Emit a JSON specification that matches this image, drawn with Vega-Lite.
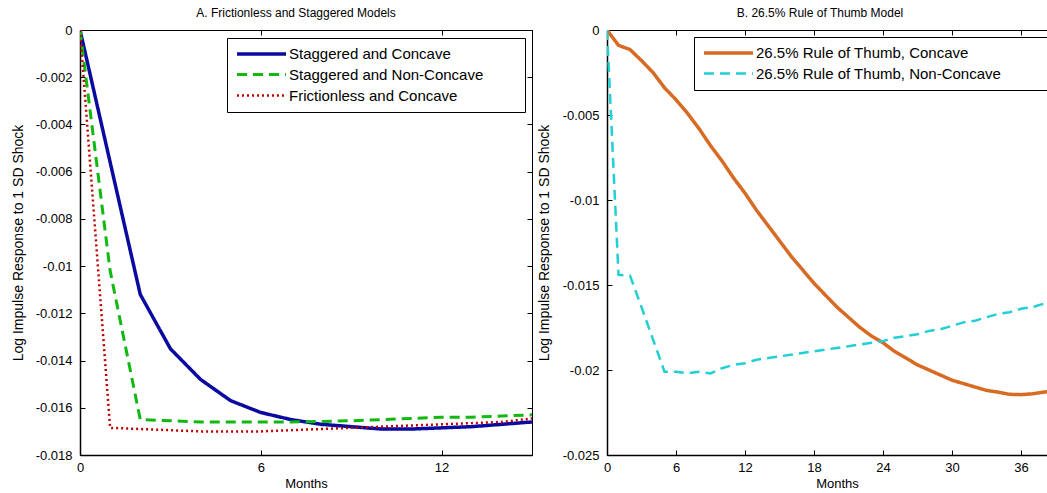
{
  "$schema": "https://vega.github.io/schema/vega-lite/v6.json",
  "padding": {"left": 10, "top": 6, "right": 0, "bottom": 0},
  "background": "white",
  "config": {
    "view": {"stroke": "black", "strokeWidth": 1},
    "axis": {"labelFont": "Liberation Sans", "titleFont": "Liberation Sans", "labelFontSize": 13, "titleFontSize": 13, "labelColor": "black", "titleColor": "black", "domainColor": "black", "tickColor": "black", "tickSize": -5, "grid": false, "titleFontWeight": "normal", "labelFlush": false, "labelOverlap": false},
    "title": {"font": "Liberation Sans", "fontSize": 12, "fontWeight": "normal", "color": "black", "anchor": "middle", "offset": 4},
    "legend": {"labelFont": "Liberation Sans", "labelFontSize": 15, "labelColor": "black", "strokeColor": "black", "fillColor": "white", "padding": 8, "symbolType": "M-1,0H7.17", "symbolSize": 144, "labelOffset": 38, "rowPadding": 5, "labelLimit": 500}
  },
  "datasets": {
    "left": [
      {"month": 0, "value": 0, "series": "Staggered and Concave"},
      {"month": 1, "value": -0.0056, "series": "Staggered and Concave"},
      {"month": 2, "value": -0.0112, "series": "Staggered and Concave"},
      {"month": 3, "value": -0.0135, "series": "Staggered and Concave"},
      {"month": 4, "value": -0.0148, "series": "Staggered and Concave"},
      {"month": 5, "value": -0.0157, "series": "Staggered and Concave"},
      {"month": 6, "value": -0.0162, "series": "Staggered and Concave"},
      {"month": 7, "value": -0.0165, "series": "Staggered and Concave"},
      {"month": 8, "value": -0.0167, "series": "Staggered and Concave"},
      {"month": 9, "value": -0.0168, "series": "Staggered and Concave"},
      {"month": 10, "value": -0.0169, "series": "Staggered and Concave"},
      {"month": 11, "value": -0.0169, "series": "Staggered and Concave"},
      {"month": 12, "value": -0.01685, "series": "Staggered and Concave"},
      {"month": 13, "value": -0.0168, "series": "Staggered and Concave"},
      {"month": 14, "value": -0.0167, "series": "Staggered and Concave"},
      {"month": 15, "value": -0.0166, "series": "Staggered and Concave"},
      {"month": 0, "value": 0, "series": "Staggered and Non-Concave"},
      {"month": 1, "value": -0.0102, "series": "Staggered and Non-Concave"},
      {"month": 2, "value": -0.0165, "series": "Staggered and Non-Concave"},
      {"month": 3, "value": -0.01655, "series": "Staggered and Non-Concave"},
      {"month": 4, "value": -0.0166, "series": "Staggered and Non-Concave"},
      {"month": 5, "value": -0.0166, "series": "Staggered and Non-Concave"},
      {"month": 6, "value": -0.0166, "series": "Staggered and Non-Concave"},
      {"month": 7, "value": -0.0166, "series": "Staggered and Non-Concave"},
      {"month": 8, "value": -0.01658, "series": "Staggered and Non-Concave"},
      {"month": 9, "value": -0.01655, "series": "Staggered and Non-Concave"},
      {"month": 10, "value": -0.0165, "series": "Staggered and Non-Concave"},
      {"month": 11, "value": -0.01645, "series": "Staggered and Non-Concave"},
      {"month": 12, "value": -0.0164, "series": "Staggered and Non-Concave"},
      {"month": 13, "value": -0.0164, "series": "Staggered and Non-Concave"},
      {"month": 14, "value": -0.01635, "series": "Staggered and Non-Concave"},
      {"month": 15, "value": -0.0163, "series": "Staggered and Non-Concave"},
      {"month": 0, "value": 0, "series": "Frictionless and Concave"},
      {"month": 1, "value": -0.01685, "series": "Frictionless and Concave"},
      {"month": 2, "value": -0.0169, "series": "Frictionless and Concave"},
      {"month": 3, "value": -0.01695, "series": "Frictionless and Concave"},
      {"month": 4, "value": -0.017, "series": "Frictionless and Concave"},
      {"month": 5, "value": -0.017, "series": "Frictionless and Concave"},
      {"month": 6, "value": -0.017, "series": "Frictionless and Concave"},
      {"month": 7, "value": -0.01695, "series": "Frictionless and Concave"},
      {"month": 8, "value": -0.0169, "series": "Frictionless and Concave"},
      {"month": 9, "value": -0.01685, "series": "Frictionless and Concave"},
      {"month": 10, "value": -0.0168, "series": "Frictionless and Concave"},
      {"month": 11, "value": -0.01675, "series": "Frictionless and Concave"},
      {"month": 12, "value": -0.0167, "series": "Frictionless and Concave"},
      {"month": 13, "value": -0.01665, "series": "Frictionless and Concave"},
      {"month": 14, "value": -0.0166, "series": "Frictionless and Concave"},
      {"month": 15, "value": -0.01645, "series": "Frictionless and Concave"}
    ],
    "right": [
      {"month": 0, "value": 0, "series": "26.5% Rule of Thumb, Concave"},
      {"month": 1, "value": -0.0009, "series": "26.5% Rule of Thumb, Concave"},
      {"month": 2, "value": -0.00115, "series": "26.5% Rule of Thumb, Concave"},
      {"month": 3, "value": -0.0018, "series": "26.5% Rule of Thumb, Concave"},
      {"month": 4, "value": -0.0025, "series": "26.5% Rule of Thumb, Concave"},
      {"month": 5, "value": -0.0034, "series": "26.5% Rule of Thumb, Concave"},
      {"month": 6, "value": -0.0041, "series": "26.5% Rule of Thumb, Concave"},
      {"month": 7, "value": -0.0049, "series": "26.5% Rule of Thumb, Concave"},
      {"month": 8, "value": -0.0058, "series": "26.5% Rule of Thumb, Concave"},
      {"month": 9, "value": -0.0068, "series": "26.5% Rule of Thumb, Concave"},
      {"month": 10, "value": -0.0077, "series": "26.5% Rule of Thumb, Concave"},
      {"month": 11, "value": -0.0087, "series": "26.5% Rule of Thumb, Concave"},
      {"month": 12, "value": -0.0096, "series": "26.5% Rule of Thumb, Concave"},
      {"month": 13, "value": -0.0106, "series": "26.5% Rule of Thumb, Concave"},
      {"month": 14, "value": -0.0115, "series": "26.5% Rule of Thumb, Concave"},
      {"month": 15, "value": -0.0124, "series": "26.5% Rule of Thumb, Concave"},
      {"month": 16, "value": -0.0133, "series": "26.5% Rule of Thumb, Concave"},
      {"month": 17, "value": -0.0141, "series": "26.5% Rule of Thumb, Concave"},
      {"month": 18, "value": -0.0149, "series": "26.5% Rule of Thumb, Concave"},
      {"month": 19, "value": -0.0156, "series": "26.5% Rule of Thumb, Concave"},
      {"month": 20, "value": -0.0163, "series": "26.5% Rule of Thumb, Concave"},
      {"month": 21, "value": -0.0169, "series": "26.5% Rule of Thumb, Concave"},
      {"month": 22, "value": -0.0175, "series": "26.5% Rule of Thumb, Concave"},
      {"month": 23, "value": -0.018, "series": "26.5% Rule of Thumb, Concave"},
      {"month": 24, "value": -0.0184, "series": "26.5% Rule of Thumb, Concave"},
      {"month": 25, "value": -0.0189, "series": "26.5% Rule of Thumb, Concave"},
      {"month": 26, "value": -0.0193, "series": "26.5% Rule of Thumb, Concave"},
      {"month": 27, "value": -0.0197, "series": "26.5% Rule of Thumb, Concave"},
      {"month": 28, "value": -0.02, "series": "26.5% Rule of Thumb, Concave"},
      {"month": 29, "value": -0.0203, "series": "26.5% Rule of Thumb, Concave"},
      {"month": 30, "value": -0.0206, "series": "26.5% Rule of Thumb, Concave"},
      {"month": 31, "value": -0.0208, "series": "26.5% Rule of Thumb, Concave"},
      {"month": 32, "value": -0.021, "series": "26.5% Rule of Thumb, Concave"},
      {"month": 33, "value": -0.0212, "series": "26.5% Rule of Thumb, Concave"},
      {"month": 34, "value": -0.0213, "series": "26.5% Rule of Thumb, Concave"},
      {"month": 35, "value": -0.02143, "series": "26.5% Rule of Thumb, Concave"},
      {"month": 36, "value": -0.02145, "series": "26.5% Rule of Thumb, Concave"},
      {"month": 37, "value": -0.0214, "series": "26.5% Rule of Thumb, Concave"},
      {"month": 38, "value": -0.0213, "series": "26.5% Rule of Thumb, Concave"},
      {"month": 39, "value": -0.0212, "series": "26.5% Rule of Thumb, Concave"},
      {"month": 40, "value": -0.0211, "series": "26.5% Rule of Thumb, Concave"},
      {"month": 0, "value": 0, "series": "26.5% Rule of Thumb, Non-Concave"},
      {"month": 1, "value": -0.0144, "series": "26.5% Rule of Thumb, Non-Concave"},
      {"month": 2, "value": -0.01445, "series": "26.5% Rule of Thumb, Non-Concave"},
      {"month": 3, "value": -0.0163, "series": "26.5% Rule of Thumb, Non-Concave"},
      {"month": 4, "value": -0.0182, "series": "26.5% Rule of Thumb, Non-Concave"},
      {"month": 5, "value": -0.0201, "series": "26.5% Rule of Thumb, Non-Concave"},
      {"month": 6, "value": -0.0201, "series": "26.5% Rule of Thumb, Non-Concave"},
      {"month": 7, "value": -0.0202, "series": "26.5% Rule of Thumb, Non-Concave"},
      {"month": 8, "value": -0.0201, "series": "26.5% Rule of Thumb, Non-Concave"},
      {"month": 9, "value": -0.0202, "series": "26.5% Rule of Thumb, Non-Concave"},
      {"month": 10, "value": -0.0199, "series": "26.5% Rule of Thumb, Non-Concave"},
      {"month": 11, "value": -0.0197, "series": "26.5% Rule of Thumb, Non-Concave"},
      {"month": 12, "value": -0.0196, "series": "26.5% Rule of Thumb, Non-Concave"},
      {"month": 13, "value": -0.0194, "series": "26.5% Rule of Thumb, Non-Concave"},
      {"month": 14, "value": -0.0193, "series": "26.5% Rule of Thumb, Non-Concave"},
      {"month": 15, "value": -0.0192, "series": "26.5% Rule of Thumb, Non-Concave"},
      {"month": 16, "value": -0.0191, "series": "26.5% Rule of Thumb, Non-Concave"},
      {"month": 17, "value": -0.019, "series": "26.5% Rule of Thumb, Non-Concave"},
      {"month": 18, "value": -0.0189, "series": "26.5% Rule of Thumb, Non-Concave"},
      {"month": 19, "value": -0.0188, "series": "26.5% Rule of Thumb, Non-Concave"},
      {"month": 20, "value": -0.0187, "series": "26.5% Rule of Thumb, Non-Concave"},
      {"month": 21, "value": -0.0186, "series": "26.5% Rule of Thumb, Non-Concave"},
      {"month": 22, "value": -0.0185, "series": "26.5% Rule of Thumb, Non-Concave"},
      {"month": 23, "value": -0.0184, "series": "26.5% Rule of Thumb, Non-Concave"},
      {"month": 24, "value": -0.0183, "series": "26.5% Rule of Thumb, Non-Concave"},
      {"month": 25, "value": -0.0181, "series": "26.5% Rule of Thumb, Non-Concave"},
      {"month": 26, "value": -0.018, "series": "26.5% Rule of Thumb, Non-Concave"},
      {"month": 27, "value": -0.0179, "series": "26.5% Rule of Thumb, Non-Concave"},
      {"month": 28, "value": -0.0177, "series": "26.5% Rule of Thumb, Non-Concave"},
      {"month": 29, "value": -0.0176, "series": "26.5% Rule of Thumb, Non-Concave"},
      {"month": 30, "value": -0.0174, "series": "26.5% Rule of Thumb, Non-Concave"},
      {"month": 31, "value": -0.0172, "series": "26.5% Rule of Thumb, Non-Concave"},
      {"month": 32, "value": -0.0171, "series": "26.5% Rule of Thumb, Non-Concave"},
      {"month": 33, "value": -0.0169, "series": "26.5% Rule of Thumb, Non-Concave"},
      {"month": 34, "value": -0.0167, "series": "26.5% Rule of Thumb, Non-Concave"},
      {"month": 35, "value": -0.0166, "series": "26.5% Rule of Thumb, Non-Concave"},
      {"month": 36, "value": -0.0164, "series": "26.5% Rule of Thumb, Non-Concave"},
      {"month": 37, "value": -0.0163, "series": "26.5% Rule of Thumb, Non-Concave"},
      {"month": 38, "value": -0.0161, "series": "26.5% Rule of Thumb, Non-Concave"},
      {"month": 39, "value": -0.016, "series": "26.5% Rule of Thumb, Non-Concave"},
      {"month": 40, "value": -0.0158, "series": "26.5% Rule of Thumb, Non-Concave"}
    ]
  },
  "spacing": 0,
  "resolve": {"scale": {"color": "independent", "strokeDash": "independent", "strokeWidth": "independent"}, "legend": {"color": "independent", "strokeDash": "independent", "strokeWidth": "independent"}},
  "hconcat": [
    {
      "width": 452,
      "height": 425,
      "title": {"text": "A. Frictionless and Staggered Models", "dx": -10},
      "data": {"name": "left"},
      "layer": [
        {
          "mark": {"type": "line", "clip": true},
          "encoding": {
            "x": {"field": "month", "type": "quantitative", "scale": {"domain": [0, 15], "nice": false}, "axis": {"values": [0, 6, 12], "title": "Months", "labelPadding": 11, "titlePadding": 3, "domainWidth": 1.5}},
            "y": {"field": "value", "type": "quantitative", "scale": {"domain": [-0.018, 0], "nice": false}, "axis": {"values": [0, -0.002, -0.004, -0.006, -0.008, -0.01, -0.012, -0.014, -0.016, -0.018], "labelExpr": "'' + datum.value", "title": "Log Impulse Response to 1 SD Shock", "titleFontSize": 14, "labelPadding": 13, "titlePadding": 10, "domainWidth": 1.5}},
            "color": {"field": "series", "type": "nominal", "scale": {"domain": ["Staggered and Concave", "Staggered and Non-Concave", "Frictionless and Concave"], "range": ["#0a0aa0", "#10b810", "#c00000"]}, "legend": {"title": null, "orient": "none", "legendX": 147, "legendY": 8, "labelExpr": "datum.label + '\u00a0\u00a0\u00a0\u00a0\u00a0\u00a0\u00a0\u00a0\u200b'"}},
            "strokeDash": {"field": "series", "type": "nominal", "scale": {"domain": ["Staggered and Concave", "Staggered and Non-Concave", "Frictionless and Concave"], "range": [[1, 0], [10, 6], [2, 3]]}, "legend": {"title": null, "orient": "none", "legendX": 147, "legendY": 8, "labelExpr": "datum.label + '\u00a0\u00a0\u00a0\u00a0\u00a0\u00a0\u00a0\u00a0\u200b'"}},
            "strokeWidth": {"field": "series", "type": "ordinal", "scale": {"domain": ["Staggered and Concave", "Staggered and Non-Concave", "Frictionless and Concave"], "range": [3.5, 2.5, 2.2]}, "legend": {"title": null, "orient": "none", "legendX": 147, "legendY": 8, "labelExpr": "datum.label + '\u00a0\u00a0\u00a0\u00a0\u00a0\u00a0\u00a0\u00a0\u200b'"}}
          }
        },
        {
          "mark": {"type": "point", "opacity": 0},
          "encoding": {
            "x": {"field": "month", "type": "quantitative", "scale": {"domain": [0, 15], "nice": false}, "axis": {"orient": "top", "values": [0, 6, 12], "labels": false, "title": null}},
            "y": {"field": "value", "type": "quantitative", "scale": {"domain": [-0.018, 0], "nice": false}, "axis": {"orient": "right", "values": [0, -0.002, -0.004, -0.006, -0.008, -0.01, -0.012, -0.014, -0.016, -0.018], "labels": false, "title": null}}
          }
        }
      ],
      "resolve": {"axis": {"x": "independent", "y": "independent"}}
    },
    {
      "width": 460,
      "height": 425,
      "title": {"text": "B. 26.5% Rule of Thumb Model", "dx": -17},
      "data": {"name": "right"},
      "layer": [
        {
          "mark": {"type": "line", "clip": true},
          "encoding": {
            "x": {"field": "month", "type": "quantitative", "scale": {"domain": [0, 40], "nice": false}, "axis": {"values": [0, 6, 12, 18, 24, 30, 36], "title": "Months", "labelPadding": 11, "titlePadding": 3, "domainWidth": 1.5}},
            "y": {"field": "value", "type": "quantitative", "scale": {"domain": [-0.025, 0], "nice": false}, "axis": {"values": [0, -0.005, -0.01, -0.015, -0.02, -0.025], "labelExpr": "'' + datum.value", "title": "Log Impulse Response to 1 SD Shock", "titleFontSize": 14, "labelPadding": 13, "titlePadding": 11, "domainWidth": 1.5}},
            "color": {"field": "series", "type": "nominal", "scale": {"domain": ["26.5% Rule of Thumb, Concave", "26.5% Rule of Thumb, Non-Concave"], "range": ["#d86b23", "#22cfd4"]}, "legend": {"title": null, "orient": "none", "legendX": 87, "legendY": 7, "labelExpr": "datum.label + '\u00a0\u00a0\u00a0\u00a0\u00a0\u00a0\u00a0\u00a0\u00a0\u00a0\u200b'"}},
            "strokeDash": {"field": "series", "type": "nominal", "scale": {"domain": ["26.5% Rule of Thumb, Concave", "26.5% Rule of Thumb, Non-Concave"], "range": [[1, 0], [10, 6]]}, "legend": {"title": null, "orient": "none", "legendX": 87, "legendY": 7, "labelExpr": "datum.label + '\u00a0\u00a0\u00a0\u00a0\u00a0\u00a0\u00a0\u00a0\u00a0\u00a0\u200b'"}},
            "strokeWidth": {"field": "series", "type": "ordinal", "scale": {"domain": ["26.5% Rule of Thumb, Concave", "26.5% Rule of Thumb, Non-Concave"], "range": [3.5, 2.5]}, "legend": {"title": null, "orient": "none", "legendX": 87, "legendY": 7, "labelExpr": "datum.label + '\u00a0\u00a0\u00a0\u00a0\u00a0\u00a0\u00a0\u00a0\u00a0\u00a0\u200b'"}}
          }
        },
        {
          "mark": {"type": "point", "opacity": 0},
          "encoding": {
            "x": {"field": "month", "type": "quantitative", "scale": {"domain": [0, 40], "nice": false}, "axis": {"orient": "top", "values": [0, 6, 12, 18, 24, 30, 36], "labels": false, "title": null}},
            "y": {"field": "value", "type": "quantitative", "scale": {"domain": [-0.025, 0], "nice": false}, "axis": {"orient": "right", "values": [0, -0.005, -0.01, -0.015, -0.02, -0.025], "labels": false, "title": null}}
          }
        }
      ],
      "resolve": {"axis": {"x": "independent", "y": "independent"}}
    }
  ]
}
